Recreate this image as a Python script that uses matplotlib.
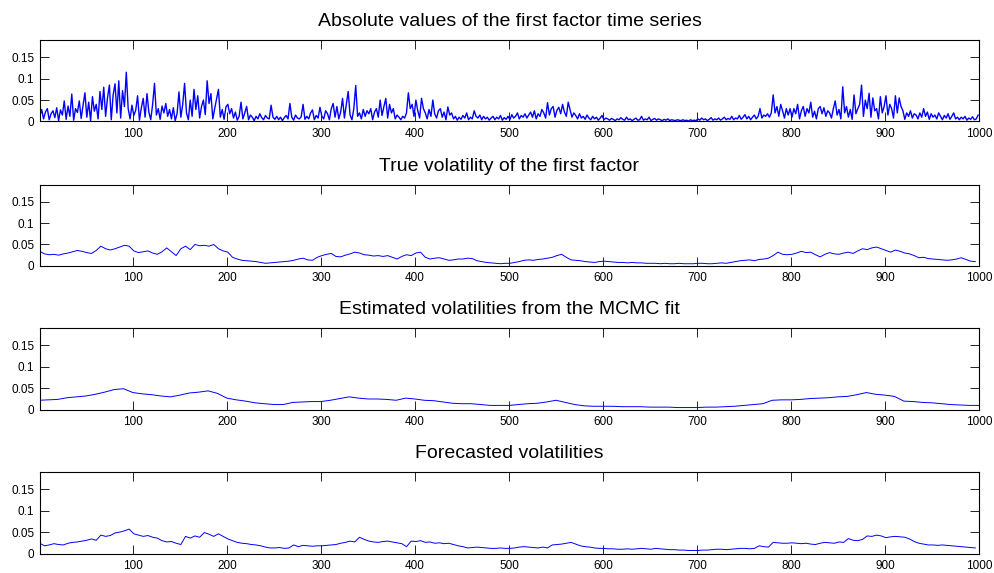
import numpy as np
import matplotlib.pyplot as plt

plt.rcParams['font.family'] = ['Liberation Sans', 'DejaVu Sans']

# |f_t| for the first factor, sampled every 2 steps (t = 1, 3, ..., 999)
t_abs = np.arange(1, 1000, 2)
abs_factor = [
    0.012, 0.028, 0.006, 0.022, 0.030, 0.004, 0.018, 0.025, 0.009, 0.032,
    0.002, 0.027, 0.015, 0.048, 0.005, 0.036, 0.012, 0.064, 0.003, 0.030,
    0.021, 0.048, 0.007, 0.038, 0.067, 0.010, 0.045, 0.002, 0.058, 0.024,
    0.040, 0.006, 0.070, 0.028, 0.080, 0.012, 0.055, 0.085, 0.004, 0.062,
    0.088, 0.020, 0.095, 0.008, 0.072, 0.035, 0.115, 0.030, 0.006, 0.038,
    0.014, 0.026, 0.060, 0.003, 0.032, 0.054, 0.010, 0.065, 0.022, 0.004,
    0.040, 0.089, 0.015, 0.030, 0.005, 0.036, 0.020, 0.042, 0.012, 0.028,
    0.006, 0.032, 0.002, 0.018, 0.069, 0.010, 0.040, 0.089, 0.020, 0.004,
    0.050, 0.012, 0.075, 0.028, 0.060, 0.008, 0.035, 0.050, 0.016, 0.095,
    0.042, 0.065, 0.006, 0.030, 0.052, 0.075, 0.010, 0.028, 0.005, 0.034,
    0.040, 0.018, 0.030, 0.008, 0.022, 0.003, 0.012, 0.045, 0.006, 0.020,
    0.035, 0.004, 0.015, 0.010, 0.002, 0.012, 0.006, 0.018, 0.009, 0.004,
    0.014, 0.008, 0.006, 0.038, 0.010, 0.005, 0.012, 0.004, 0.010, 0.002,
    0.009, 0.014, 0.006, 0.042, 0.010, 0.003, 0.015, 0.008, 0.006, 0.011,
    0.040, 0.005, 0.012, 0.006, 0.020, 0.027, 0.004, 0.014, 0.008, 0.033,
    0.012, 0.006, 0.025, 0.018, 0.004, 0.030, 0.042, 0.010, 0.035, 0.006,
    0.022, 0.054, 0.008, 0.040, 0.070, 0.015, 0.004, 0.030, 0.084, 0.012,
    0.020, 0.006, 0.028, 0.012, 0.025, 0.018, 0.030, 0.004, 0.022, 0.030,
    0.010, 0.050, 0.014, 0.035, 0.054, 0.008, 0.040, 0.020, 0.030, 0.006,
    0.015, 0.010, 0.004, 0.012, 0.008, 0.020, 0.067, 0.030, 0.040, 0.012,
    0.050, 0.025, 0.008, 0.054, 0.030, 0.020, 0.006, 0.028, 0.012, 0.050,
    0.018, 0.008, 0.025, 0.030, 0.010, 0.022, 0.004, 0.034, 0.015, 0.020,
    0.006, 0.012, 0.003, 0.010, 0.005, 0.014, 0.008, 0.020, 0.004, 0.010,
    0.006, 0.025, 0.012, 0.008, 0.015, 0.004, 0.012, 0.006, 0.010, 0.003,
    0.008, 0.012, 0.004, 0.010, 0.006, 0.014, 0.003, 0.009, 0.005, 0.012,
    0.004, 0.016, 0.008, 0.012, 0.020, 0.006, 0.014, 0.010, 0.018, 0.008,
    0.015, 0.022, 0.010, 0.025, 0.006, 0.018, 0.012, 0.028, 0.020, 0.008,
    0.044, 0.015, 0.030, 0.035, 0.010, 0.026, 0.033, 0.018, 0.040, 0.022,
    0.012, 0.045, 0.028, 0.010, 0.020, 0.014, 0.006, 0.018, 0.008, 0.012,
    0.005, 0.015, 0.008, 0.004, 0.012, 0.006, 0.010, 0.003, 0.008, 0.014,
    0.004, 0.008, 0.006, 0.003, 0.007, 0.005, 0.002, 0.006, 0.004, 0.009,
    0.005, 0.003, 0.010, 0.004, 0.006, 0.002, 0.005, 0.008, 0.003, 0.004,
    0.012, 0.003, 0.006, 0.004, 0.010, 0.002, 0.005, 0.007, 0.003, 0.006,
    0.004, 0.002, 0.005, 0.003, 0.006, 0.002, 0.004, 0.003, 0.002, 0.004,
    0.003, 0.002, 0.004, 0.002, 0.003, 0.001, 0.004, 0.002, 0.003, 0.002,
    0.006, 0.003, 0.008, 0.004, 0.006, 0.002, 0.005, 0.009, 0.003, 0.006,
    0.004, 0.008, 0.003, 0.006, 0.010, 0.004, 0.007, 0.005, 0.012, 0.004,
    0.008, 0.006, 0.014, 0.005, 0.010, 0.016, 0.006, 0.012, 0.004, 0.010,
    0.015, 0.006, 0.012, 0.030, 0.008, 0.015, 0.012, 0.018, 0.010, 0.020,
    0.062, 0.020, 0.035, 0.012, 0.040, 0.025, 0.008, 0.030, 0.015, 0.030,
    0.010, 0.030, 0.018, 0.040, 0.006, 0.025, 0.035, 0.012, 0.030, 0.020,
    0.045, 0.010, 0.024, 0.006, 0.030, 0.035, 0.018, 0.032, 0.012, 0.025,
    0.020, 0.008, 0.030, 0.048, 0.015, 0.028, 0.006, 0.081, 0.020, 0.035,
    0.010, 0.028, 0.005, 0.062, 0.018, 0.030, 0.040, 0.085, 0.012, 0.050,
    0.030, 0.066, 0.010, 0.055, 0.025, 0.030, 0.006, 0.058, 0.020, 0.035,
    0.060, 0.015, 0.040, 0.030, 0.008, 0.060, 0.020, 0.055, 0.035, 0.025,
    0.005, 0.020, 0.012, 0.025, 0.008, 0.018, 0.015, 0.006, 0.020, 0.010,
    0.030, 0.012, 0.022, 0.005, 0.018, 0.010, 0.015, 0.006, 0.020, 0.012,
    0.004, 0.014, 0.008, 0.018, 0.005, 0.012, 0.020, 0.006, 0.010, 0.004,
    0.010, 0.006, 0.012, 0.003, 0.008, 0.005, 0.011, 0.004, 0.006, 0.015,
]

# true volatility, every 5 steps (t = 1, 6, ..., 996)
t_true = np.arange(1, 1000, 5)
true_vol = [
    0.034, 0.028, 0.026, 0.027, 0.025, 0.028, 0.030, 0.033, 0.036, 0.034,
    0.031, 0.029, 0.036, 0.046, 0.040, 0.037, 0.040, 0.044, 0.048, 0.046,
    0.035, 0.031, 0.033, 0.035, 0.030, 0.027, 0.033, 0.042, 0.033, 0.024,
    0.040, 0.046, 0.038, 0.050, 0.047, 0.048, 0.046, 0.050, 0.040, 0.035,
    0.032, 0.020, 0.016, 0.013, 0.012, 0.011, 0.010, 0.008, 0.006, 0.007,
    0.008, 0.009, 0.010, 0.011, 0.013, 0.016, 0.018, 0.014, 0.013, 0.020,
    0.024, 0.027, 0.029, 0.022, 0.021, 0.025, 0.028, 0.032, 0.030, 0.026,
    0.025, 0.023, 0.024, 0.022, 0.024, 0.020, 0.016, 0.022, 0.026, 0.024,
    0.030, 0.032, 0.020, 0.016, 0.018, 0.019, 0.016, 0.013, 0.014, 0.016,
    0.016, 0.018, 0.017, 0.012, 0.010, 0.008, 0.007, 0.006, 0.005, 0.006,
    0.006, 0.008, 0.010, 0.013, 0.014, 0.013, 0.015, 0.016, 0.018, 0.020,
    0.024, 0.027, 0.020, 0.014, 0.013, 0.012, 0.010, 0.009, 0.008, 0.010,
    0.011, 0.010, 0.009, 0.008, 0.008, 0.007, 0.008, 0.007, 0.007, 0.006,
    0.006, 0.006, 0.005, 0.006, 0.005, 0.005, 0.006, 0.005, 0.005, 0.005,
    0.006, 0.006, 0.005, 0.005, 0.006, 0.007, 0.006, 0.008, 0.010, 0.012,
    0.013, 0.014, 0.012, 0.015, 0.016, 0.018, 0.024, 0.032, 0.027, 0.026,
    0.027, 0.030, 0.034, 0.031, 0.032, 0.026, 0.021, 0.027, 0.031, 0.028,
    0.027, 0.030, 0.032, 0.029, 0.035, 0.040, 0.038, 0.042, 0.044, 0.040,
    0.036, 0.032, 0.037, 0.034, 0.030, 0.028, 0.024, 0.019, 0.020, 0.017,
    0.016, 0.015, 0.014, 0.013, 0.014, 0.016, 0.019, 0.015, 0.011, 0.010,
]

# posterior mean volatility from the MCMC run, every 10 steps (t = 0..1000)
t_mcmc = np.arange(0, 1001, 10)
mcmc_vol = [
    0.022, 0.023, 0.024, 0.028, 0.030, 0.032, 0.036, 0.041, 0.047, 0.049,
    0.040, 0.037, 0.035, 0.032, 0.030, 0.034, 0.039, 0.041, 0.044, 0.038,
    0.027, 0.023, 0.020, 0.016, 0.014, 0.012, 0.012, 0.017, 0.018, 0.019,
    0.019, 0.022, 0.026, 0.030, 0.027, 0.025, 0.025, 0.024, 0.022, 0.027,
    0.025, 0.022, 0.021, 0.018, 0.015, 0.014, 0.014, 0.012, 0.010, 0.010,
    0.010, 0.012, 0.014, 0.015, 0.018, 0.022, 0.017, 0.012, 0.009, 0.008,
    0.008, 0.008, 0.007, 0.007, 0.007, 0.006, 0.006, 0.006, 0.005, 0.005,
    0.005, 0.006, 0.006, 0.007, 0.008, 0.010, 0.012, 0.014, 0.022, 0.023,
    0.023, 0.024, 0.026, 0.027, 0.028, 0.030, 0.031, 0.035, 0.040, 0.036,
    0.034, 0.031, 0.020, 0.019, 0.017, 0.016, 0.014, 0.012, 0.011, 0.010,
    0.010,
]

# one-step-ahead forecasts, every 5 steps (t = 1, 6, ..., 996)
t_fc = np.arange(1, 1000, 5)
forecast_vol = [
    0.024, 0.018, 0.020, 0.023, 0.021, 0.020, 0.024, 0.026, 0.027, 0.029,
    0.031, 0.034, 0.031, 0.043, 0.040, 0.042, 0.048, 0.050, 0.053, 0.057,
    0.046, 0.043, 0.040, 0.042, 0.038, 0.036, 0.030, 0.027, 0.028, 0.024,
    0.021, 0.040, 0.036, 0.041, 0.038, 0.049, 0.045, 0.040, 0.046, 0.040,
    0.034, 0.030, 0.026, 0.024, 0.023, 0.021, 0.020, 0.018, 0.015, 0.013,
    0.013, 0.014, 0.012, 0.013, 0.020, 0.016, 0.019, 0.018, 0.017, 0.018,
    0.018, 0.019, 0.020, 0.021, 0.024, 0.026, 0.029, 0.027, 0.038, 0.033,
    0.029, 0.027, 0.026, 0.028, 0.029, 0.027, 0.025, 0.023, 0.016, 0.029,
    0.028, 0.030, 0.026, 0.027, 0.024, 0.025, 0.023, 0.024, 0.021, 0.018,
    0.016, 0.013, 0.014, 0.015, 0.014, 0.013, 0.012, 0.012, 0.013, 0.012,
    0.012, 0.013, 0.015, 0.016, 0.015, 0.014, 0.013, 0.015, 0.013, 0.020,
    0.021, 0.022, 0.024, 0.026, 0.022, 0.018, 0.016, 0.015, 0.013, 0.012,
    0.012, 0.011, 0.011, 0.010, 0.010, 0.011, 0.010, 0.011, 0.012, 0.011,
    0.010, 0.012, 0.011, 0.010, 0.009, 0.009, 0.008, 0.008, 0.007, 0.007,
    0.007, 0.008, 0.008, 0.009, 0.010, 0.010, 0.009, 0.010, 0.011, 0.012,
    0.012, 0.011, 0.012, 0.018, 0.016, 0.015, 0.026, 0.025, 0.024, 0.024,
    0.025, 0.024, 0.023, 0.024, 0.022, 0.021, 0.024, 0.026, 0.025, 0.024,
    0.027, 0.026, 0.035, 0.031, 0.030, 0.033, 0.041, 0.040, 0.043, 0.041,
    0.037, 0.039, 0.040, 0.039, 0.038, 0.034, 0.028, 0.024, 0.022, 0.020,
    0.020, 0.019, 0.020, 0.019, 0.018, 0.017, 0.016, 0.015, 0.014, 0.013,
]

titles = [
    'Absolute values of the first factor time series',
    'True volatility of the first factor',
    'Estimated volatilities from the MCMC fit',
    'Forecasted volatilities',
]
x_ticks = list(range(100, 1001, 100))
y_ticks = [0, 0.05, 0.1, 0.15]
y_tick_labels = ['0', '0.05', '0.1', '0.15']

series = [
    (t_abs, abs_factor, 1.0),
    (t_true, true_vol, 0.7),
    (t_mcmc, mcmc_vol, 0.7),
    (t_fc, forecast_vol, 0.7),
]

fig = plt.figure(figsize=(9.95, 5.73), dpi=100)
bottoms = [0.788, 0.536, 0.285, 0.034]

for (t, v, lw), title, b in zip(series, titles, bottoms):
    ax = fig.add_axes([0.040, b, 0.944, 0.142])
    ax.plot(t, v, color='#0000ff', linewidth=lw)
    ax.set_xlim(1, 1000)
    ax.set_ylim(0, 0.19)
    ax.set_xticks(x_ticks)
    ax.set_yticks(y_ticks)
    ax.set_yticklabels(y_tick_labels)
    ax.tick_params(direction='in', length=6.5, width=0.6, top=True, right=True,
                   labelsize=8.5)
    ax.tick_params(axis='x', pad=4.5)
    ax.tick_params(axis='y', pad=4)
    for s in ax.spines.values():
        s.set_linewidth(0.8)
    ax.set_title(title, fontsize=14, pad=10)

fig.savefig('out.png', dpi=100, facecolor='white')
